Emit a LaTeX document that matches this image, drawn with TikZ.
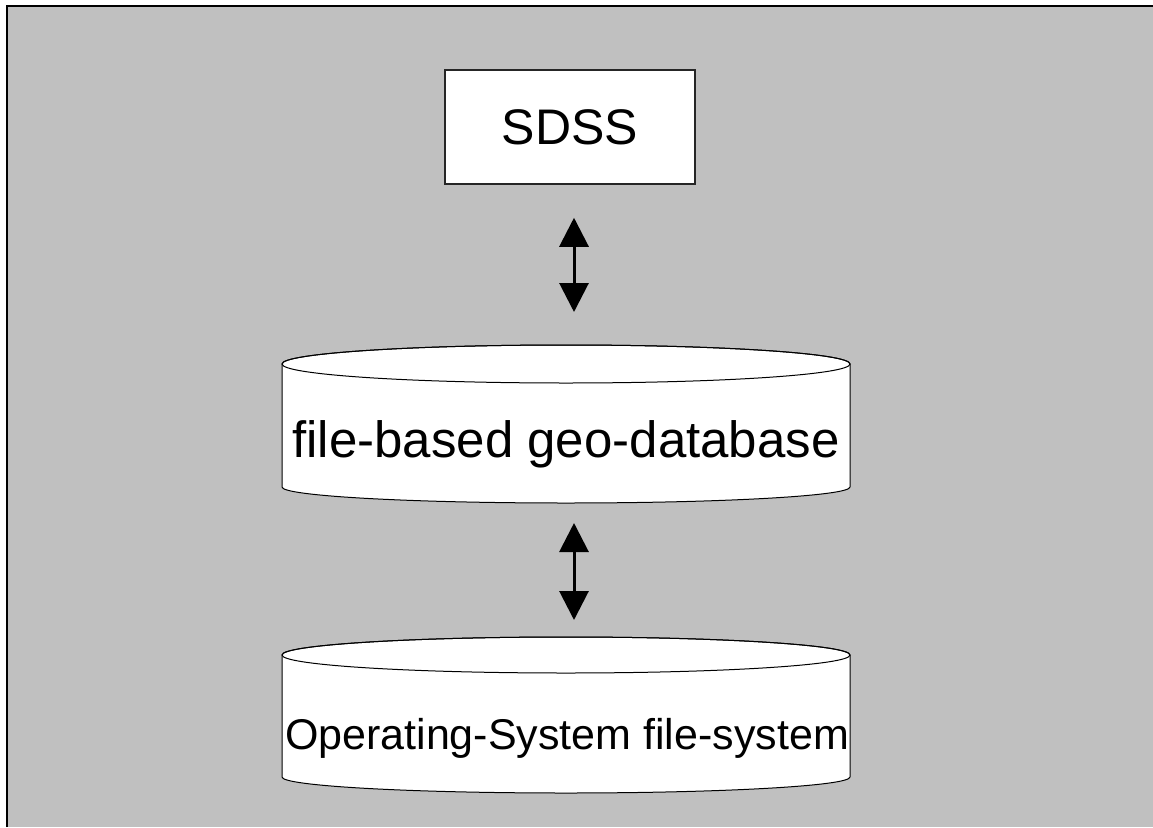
\documentclass[tikz,border=0pt]{standalone}
\usepackage{fontspec}
\setmainfont{Liberation Sans}
\usetikzlibrary{arrows.meta,calc}
\definecolor{bg}{HTML}{C0C0C0}
\begin{document}
\begin{tikzpicture}[x=1pt,y=-1pt,
  sdssbox/.style={draw=black!85, line width=1.5pt, fill=white, minimum width=250pt, minimum height=114pt, inner sep=0pt, font=\fontsize{50}{60}\selectfont},
  cylframe/.style={minimum width=568pt, inner sep=0pt, outer sep=0pt},
  cylline/.style={draw=black, line width=1pt, fill=white},
  bigtext/.style={inner sep=0pt, font=\fontsize{51}{60}\selectfont},
  midtext/.style={inner sep=0pt, font=\fontsize{43}{52}\selectfont},
  arr/.style={line width=3pt, {Triangle[length=29pt,width=29pt]}-{Triangle[length=29pt,width=29pt]}},
]
\useasboundingbox (0,0) rectangle (1153,827);
\fill[bg] (7,6) rectangle (1153,827);
\draw[line width=2pt] (7,827) -- (7,6) -- (1153,6);

% SDSS box
\node[sdssbox] (sdss) at (570,127) {SDSS};

% cylinder 1
\node[cylframe, minimum height=158pt] (db) at (566,424) {};
\path[cylline] ($(db.north west)+(0,19)$) -- ($(db.south west)+(0,-16)$)
  arc[start angle=180,end angle=0,x radius=284,y radius=16]
  -- ($(db.north east)+(0,19)$)
  arc[start angle=0,end angle=-180,x radius=284,y radius=19] -- cycle;
\draw[line width=1pt] ($(db.north)+(0,19)$) ellipse[x radius=284, y radius=19];
\node[bigtext] (dbtext) at (566,444) {file-based geo-database};

% cylinder 2
\node[cylframe, minimum height=156pt] (os) at (566,715) {};
\path[cylline] ($(os.north west)+(0,18)$) -- ($(os.south west)+(0,-16)$)
  arc[start angle=180,end angle=0,x radius=284,y radius=16]
  -- ($(os.north east)+(0,18)$)
  arc[start angle=0,end angle=-180,x radius=284,y radius=18] -- cycle;
\draw[line width=1pt] ($(os.north)+(0,18)$) ellipse[x radius=284, y radius=18];
\node[midtext] (ostext) at (567,738) {Operating-System file-system};

% arrows
\coordinate (ax) at (574,0);
\draw[arr, shorten <=33pt, shorten >=33pt] (sdss.south -| ax) -- (db.north -| ax);
\draw[arr, shorten <=20pt, shorten >=17pt] (db.south -| ax) -- (os.north -| ax);
\end{tikzpicture}
\end{document}
